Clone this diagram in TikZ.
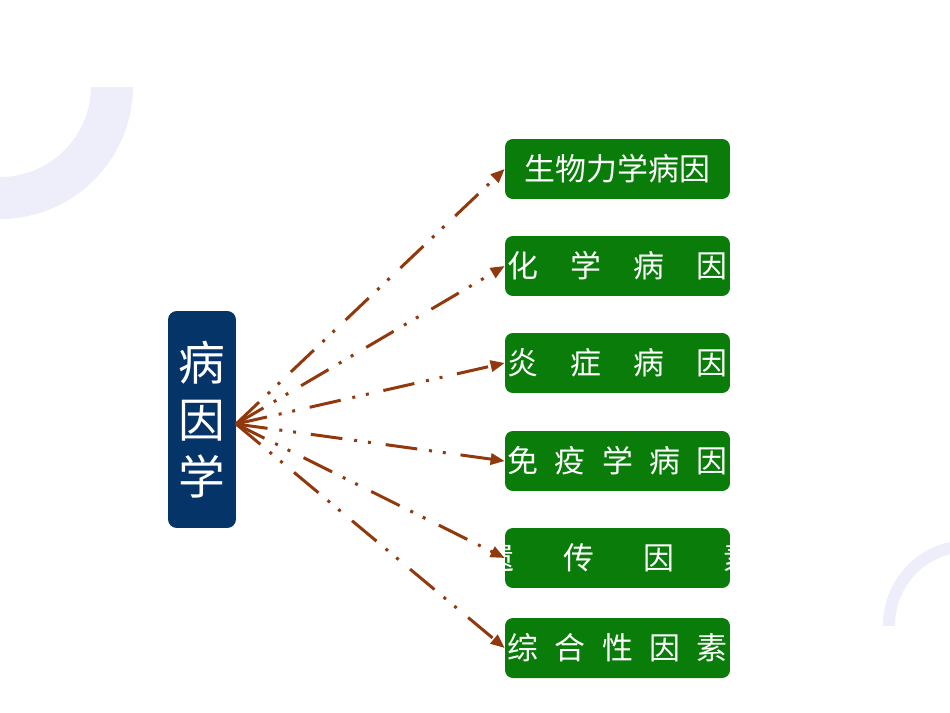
\documentclass[tikz,border=0pt]{standalone}
\usepackage{fontspec}
\newfontfamily\cjk{Noto Sans CJK SC}
\usetikzlibrary{arrows.meta}
\definecolor{navy}{RGB}{4,52,104}
\definecolor{leafgreen}{RGB}{9,124,9}
\definecolor{rust}{RGB}{145,56,12}
\definecolor{ringgray}{RGB}{238,238,251}
\tikzset{%
  mainbox/.style  = {fill=navy, rounded corners=5pt, minimum width=1.36cm,
    minimum height=4.34cm, inner sep=0pt, text=white, align=center,
    font=\cjk\fontsize{26.6pt}{32.3pt}\selectfont}, % Main topic
  causetext/.style = {text=white, inner sep=0pt,
    font=\cjk\fontsize{17.6pt}{20pt}\selectfont},
  causebox/.style = {fill=leafgreen, rounded corners=4.5pt, minimum width=4.5cm,
    minimum height=1.2cm, causetext}, % Cause
  link/.style     = {draw=rust, line width=1.7pt,
    dash pattern=on 18.1pt off 6.8pt on 1.7pt off 6.2pt on 1.7pt off 8.5pt,
    -{Triangle[length=8pt,width=6.4pt]}} % Connector
}
\newcommand{\gap}[1]{\hspace{#1}}

\begin{document}
\begin{tikzpicture}[x=0.02cm, y=-0.02cm]
\useasboundingbox[fill=white] (0,0) rectangle (950,713);
	% Background rings
\begin{scope}
	\clip (0,88) rectangle (950,713);
	\fill[ringgray, even odd rule] (0,86) circle[radius=133] (0,86) circle[radius=91];
\end{scope}
\begin{scope}
	\clip (0,0) rectangle (950,625);
	\fill[ringgray, even odd rule] (968,625) circle[radius=85] (968,625) circle[radius=73];
\end{scope}
	% Drawing the blocks :
\draw
	node at (202,419.5) [mainbox] (bingyin) {病\\因\\学}
	node at (617.5,169) [causebox] (shengwu) {\makebox[0pt]{生物力学病因}}
	node at (617.5,266) [causebox] (huaxue) {\makebox[0pt]{化\gap{0.64cm}学\gap{0.64cm}病\gap{0.64cm}因}}
	node at (617.5,363) [causebox] (yanzheng) {\makebox[0pt]{炎\gap{0.64cm}症\gap{0.64cm}病\gap{0.64cm}因}}
	node at (617.5,461) [causebox] (mianyi) {\makebox[0pt]{免\gap{0.33cm}疫\gap{0.33cm}学\gap{0.33cm}病\gap{0.33cm}因}}
	node at (617.5,558) [causebox, path picture={
	  \node[causetext] at ([xshift=0.03cm]path picture bounding box.center)
	    {遗\gap{0.98cm}传\gap{0.98cm}因\gap{0.98cm}素};}] (yichuan) {}
	node at (617.5,648) [causebox] (zonghe) {\makebox[0pt]{综\gap{0.33cm}合\gap{0.33cm}性\gap{0.33cm}因\gap{0.33cm}素}};
\coordinate (fan) at (236,424);
	% Joining blocks.
	\draw[link] (fan) -- (shengwu.west);
	\draw[link] (fan) -- (huaxue.west);
	\draw[link] (fan) -- (yanzheng.west);
	\draw[link] (fan) -- (mianyi.west);
	\draw[link] (fan) -- (yichuan.west);
	\draw[link] (fan) -- (zonghe.west);
\end{tikzpicture}
\end{document}
